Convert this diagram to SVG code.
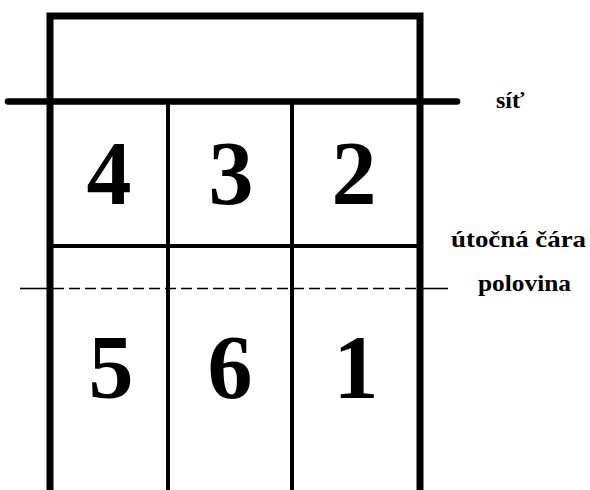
<svg xmlns="http://www.w3.org/2000/svg" width="590" height="490" viewBox="0 0 590 490">
<style>
.bg{fill:#ffffff}
.thick{stroke:#000;stroke-width:7;fill:none;stroke-linejoin:miter}
.net{stroke:#000;stroke-width:6.5;stroke-linecap:round;fill:none}
.thin{stroke:#000;stroke-width:4;fill:none}
.half{stroke:#000;stroke-width:1.6;fill:none}
.dash{stroke:#000;stroke-width:1.6;fill:none;stroke-dasharray:11 5}
.num{font-family:"Liberation Serif","Times New Roman",serif;font-weight:bold;font-size:90px;fill:#000;text-anchor:middle}
.lbl{font-family:"Liberation Serif","Times New Roman",serif;font-weight:bold;font-size:24px;fill:#000}
</style>
<rect class="bg" x="0" y="0" width="590" height="490"/>
<g id="connectors">
<path class="thick" d="M50,495 V16 H420 V495"/>
<line class="net" x1="8" y1="101.5" x2="457" y2="101.5"/>
<line class="thin" x1="168" y1="101" x2="168" y2="495"/>
<line class="thin" x1="292" y1="101" x2="292" y2="495"/>
<line class="thin" x1="50" y1="246" x2="420" y2="246"/>
<line class="half" x1="20" y1="288.5" x2="50" y2="288.5"/>
<line class="dash" x1="53" y1="288.5" x2="418" y2="288.5"/>
<line class="half" x1="420" y1="288.5" x2="448" y2="288.5"/>
</g>
<g id="zone4"><text class="num" x="109" y="204">4</text></g>
<g id="zone3"><text class="num" x="231" y="204">3</text></g>
<g id="zone2"><text class="num" x="354" y="204">2</text></g>
<g id="zone5"><text class="num" x="111" y="398">5</text></g>
<g id="zone6"><text class="num" x="230" y="398">6</text></g>
<g id="zone1"><text class="num" x="356" y="398">1</text></g>
<g id="label-sit"><text class="lbl" x="496" y="108">síť</text></g>
<g id="label-utocna"><text class="lbl" x="451" y="247" textLength="135" lengthAdjust="spacingAndGlyphs">útočná čára</text></g>
<g id="label-polovina"><text class="lbl" x="478" y="291" textLength="93" lengthAdjust="spacingAndGlyphs">polovina</text></g>
</svg>
